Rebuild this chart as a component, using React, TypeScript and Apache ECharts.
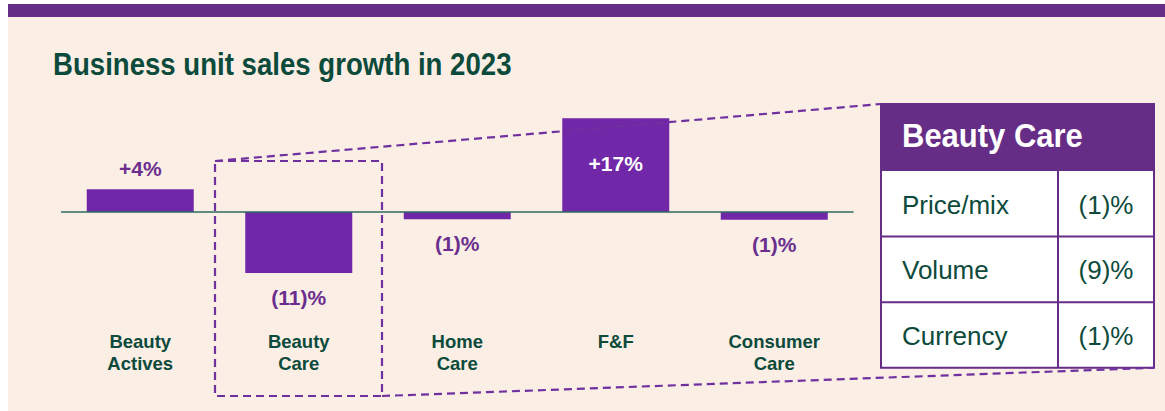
import React, { useEffect, useRef } from "react";
import * as echarts from "echarts";

const categories = ["Beauty\nActives", "Beauty\nCare", "Home\nCare", "F&F", "Consumer\nCare"];
const growth = [4.1, -11, -1.3, 16.9, -1.4];

const tableTitle = "Beauty Care";
const tableRows = ["Price/mix", "Volume", "Currency"];
const tableValues = ["(1)%", "(9)%", "(1)%"];

const chartTitle = "Business unit sales growth in 2023";

const PURPLE = "#7027A8";
const DARK_PURPLE = "#662D87";
const LABEL_PURPLE = "#6B2E8F";
const GREEN = "#0C4A3B";
const BG = "#FAEEE5";
const FONT = "'Liberation Sans', Arial, sans-serif";

function fmt(v: number): string {
  return v > 0 ? "+" + Math.round(v) + "%" : "(" + Math.round(-v) + ")%";
}

export default function App() {
  const ref = useRef<HTMLDivElement>(null);
  useEffect(() => {
    if (!ref.current) return;
    const chart = echarts.init(ref.current, null, { renderer: "svg" });

    const data = growth.map((v) => {
      let label: any;
      if (v > 10) {
        label = { show: true, position: "inside", offset: [0, -2], color: "#FFFFFF" };
      } else if (v > 0) {
        label = { show: true, position: "top", distance: 10, color: LABEL_PURPLE };
      } else {
        label = { show: true, position: "bottom", distance: 14, color: LABEL_PURPLE };
      }
      return { value: v, label };
    });

    // table geometry
    const tx0 = 881, tx1 = 1154, ty0 = 104, hdrH = 67, rowH = 65.6, colX = 1058;
    const table: any[] = [];
    table.push({
      type: "rect",
      shape: { x: tx0, y: ty0, width: tx1 - tx0, height: hdrH + rowH * tableRows.length },
      style: { fill: "#FFFFFF", stroke: DARK_PURPLE, lineWidth: 2 },
      z: 20,
    });
    table.push({
      type: "rect",
      shape: { x: tx0, y: ty0, width: tx1 - tx0, height: hdrH },
      style: { fill: DARK_PURPLE },
      z: 21,
    });
    table.push({
      type: "text",
      x: 902,
      y: ty0 + hdrH / 2 - 2,
      scaleY: 1.08,
      style: { text: tableTitle, fill: "#FFFFFF", font: "bold 31px " + FONT, verticalAlign: "middle", align: "left" },
      z: 22,
    });
    tableRows.forEach((r, i) => {
      const y0 = ty0 + hdrH + rowH * i;
      if (i > 0) {
        table.push({
          type: "line",
          shape: { x1: tx0, y1: y0, x2: tx1, y2: y0 },
          style: { stroke: DARK_PURPLE, lineWidth: 2 },
          z: 22,
        });
      }
      table.push({
        type: "text",
        x: 902,
        y: y0 + rowH / 2 + 1,
        style: { text: r, fill: GREEN, font: "26px " + FONT, verticalAlign: "middle", align: "left" },
        z: 22,
      });
      table.push({
        type: "text",
        x: (colX + tx1) / 2,
        y: y0 + rowH / 2 + 1,
        style: { text: tableValues[i], fill: GREEN, font: "26px " + FONT, verticalAlign: "middle", align: "center" },
        z: 22,
      });
    });
    table.push({
      type: "line",
      shape: { x1: colX, y1: ty0 + hdrH, x2: colX, y2: ty0 + hdrH + rowH * tableRows.length },
      style: { stroke: DARK_PURPLE, lineWidth: 2 },
      z: 22,
    });

    const dash = { stroke: "#7030A0", lineWidth: 2.2, lineDash: [8, 5], fill: null };
    const tBottom = ty0 + hdrH + rowH * tableRows.length;

    chart.setOption({
      animation: false,
      backgroundColor: BG,
      grid: { left: 61, right: 311.5, top: 101, bottom: 88 },
      xAxis: {
        type: "category",
        data: categories,
        axisLine: { show: false },
        axisTick: { show: false },
        axisLabel: {
          interval: 0,
          margin: 7,
          verticalAlign: "top",
          color: GREEN,
          fontWeight: "bold",
          fontSize: 18.5,
          lineHeight: 22,
          fontFamily: FONT,
        },
      },
      yAxis: { type: "value", min: -20, max: 20, show: false, splitLine: { show: false } },
      series: [
        {
          type: "bar",
          data,
          barWidth: 107,
          itemStyle: { color: PURPLE },
          label: {
            fontWeight: "bold",
            fontSize: 21,
            fontFamily: FONT,
            formatter: (p: any) => fmt(p.value),
          },
          markLine: {
            silent: true,
            symbol: ["none", "none"],
            label: { show: false },
            lineStyle: { color: "#2F6B5F", width: 1.5, type: "solid" },
            data: [{ yAxis: 0 }],
          },
        },
      ],
      graphic: [
        { type: "rect", shape: { x: 0, y: 0, width: 8, height: 411 }, style: { fill: "#FFFFFF" }, z: 50 },
        { type: "rect", shape: { x: 0, y: 0, width: 1165, height: 4 }, style: { fill: "#FFFFFF" }, z: 50 },
        { type: "rect", shape: { x: 8, y: 4, width: 1157, height: 13 }, style: { fill: DARK_PURPLE }, z: 50 },
        {
          type: "text",
          x: 53,
          y: 64,
          scaleY: 1.15,
          style: { text: chartTitle, fill: GREEN, font: "bold 27.6px " + FONT, verticalAlign: "middle", align: "left" },
          z: 50,
        },
        // dashed box around Beauty Care
        { type: "rect", shape: { x: 215, y: 161, width: 167, height: 235 }, style: dash, z: 30 },
        { type: "line", shape: { x1: 215, y1: 161, x2: tx0, y2: ty0 }, style: dash, z: 30 },
        { type: "line", shape: { x1: 382, y1: 396, x2: tx1, y2: tBottom }, style: dash, z: 30 },
        ...table,
      ],
    });
    return () => chart.dispose();
  }, []);
  return (
    <div
      ref={ref}
      style={{ position: "absolute", left: 0, top: 0, width: 1165, height: 411 }}
    />
  );
}
